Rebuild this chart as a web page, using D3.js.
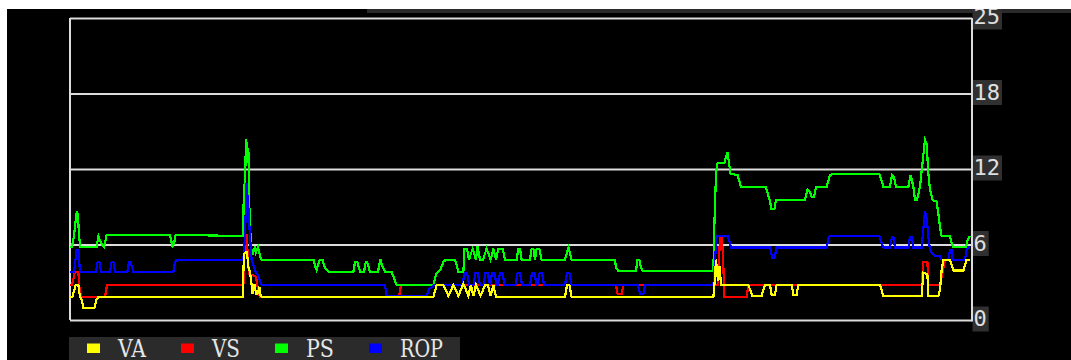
<!DOCTYPE html>
<html>
<head>
<meta charset="utf-8">
<script src="https://cdn.jsdelivr.net/npm/d3@7"></script>
<style>
  html, body { margin: 0; padding: 0; background: #fff; overflow: hidden; }
  svg { display: block; }
</style>
</head>
<body>
<svg id="chart" width="1071" height="360"></svg>
<script>
// Time index (one step per sample) and value pairs for each channel.
const VA = [[0,1.9],[1.2,1.9],[2.8,2.9],[4.2,2.9],[5,1.9],[5.8,1.7],[6.7,1.0],[12.2,1.0],[13.3,1.7],[14.2,1.9],
  [86.3,1.9],[87,5.5],[87.8,5.6],[88.5,5.6],[89.2,4.4],[90,4.0],[90.8,2.9],[91.3,2.2],[92.2,3.0],[93,2.2],[93.8,2.2],[94.7,2.75],[95.3,2.0],[95.8,1.9],
  [181.7,1.9],[182.5,2.4],[183.3,2.9],[186.7,2.9],[189.2,2.0],[191.7,2.9],[194.2,2.0],[196.7,3.0],[199.2,2.0],[200.4,2.9],[201.7,2.0],[203,2.9],[205.3,2.0],[207.5,2.9],[209,2.9],[210.3,2.0],[211.7,2.9],[213,1.9],
  [247.5,1.9],[248.5,2.9],[249.7,2.9],[250.8,1.9],
  [321.7,1.9],[322.2,2.9],[323,5.0],[324,3.2],[324.8,4.5],[325.5,2.9],
  [339.2,2.9],[341.2,2.0],[345.8,2.0],[347.5,2.9],[350,2.9],[350.8,2.1],[352.5,2.1],[353.3,2.9],[360.8,2.9],[361.7,2.1],[363.3,2.1],[364.2,2.9],
  [405,2.9],[406.7,2.0],[425.8,2.0],[426.7,3.9],[428.7,3.8],[429.2,2.0],[434.2,2.0],[435,2.5],[435.8,4.1],[436.7,5.0],[440,5.0],[441.7,4.1],[446.7,4.1],[448.3,5.0],[450,5.0]];

const VS = [[0,2.9],[1,2.9],[2.5,4.0],[4.2,4.0],[4.5,2.9],[5.5,1.9],[17.5,1.9],[18.5,2.9],
  [86.7,2.9],[87.5,7.0],[88.3,7.0],[89.2,4.5],[89.5,3.8],[91.7,3.7],[93,3.6],[94,2.5],[95,1.9],
  [164.5,1.9],[165.5,2.9],[273,2.9],[273.8,2.15],[275.8,2.15],[276.7,2.9],
  [324,2.9],[325,6.9],[326,6.9],[326.7,4.3],[327.2,1.9],[338.3,1.9],[339.2,2.9],
  [425.8,2.9],[426.7,4.8],[428.7,4.8],[429.2,2.9],[435,2.9],[435.8,3.6],[437,4.5],[437.5,5.0],[440,5.0],[441.7,4.1],[446.7,4.1],[448.3,5.0],[450,5.0]];

const PS = [[0,6.05],[1,6.05],[2,7.0],[3,8.5],[3.5,9.0],[4,8.6],[4.5,7.0],[5.2,6.05],
  [13.3,6.05],[14.2,6.95],[15,6.6],[16,6.2],[17,6.05],[17.8,6.6],[18.3,7.05],
  [50,7.05],[51.2,6.1],[52,6.3],[52.8,7.05],
  [86.5,6.95],[87,11.2],[87.5,11.2],[88,15.0],[88.7,14.2],[89.2,14.0],[89.7,9.3],[90.5,6.05],[91.3,5.4],[92,5.8],[92.5,6.1],[93,5.6],[94,6.05],[95,5.3],[95.8,5.0],
  [121.7,5.0],[122.5,4.5],[123.3,4.14],[124,4.6],[125,5.0],[126.2,5.0],[127.5,4.3],[129.2,4.0],
  [141.7,4.0],[142.5,4.8],[143.7,4.8],[145,4.0],[147,4.0],[147.9,4.8],[148.5,4.8],[150,4.0],
  [154,4.0],[155.2,5.0],[156,4.5],[157.5,4.0],[160.8,4.0],[161.7,3.6],[163.3,2.9],
  [181.7,2.9],[182.5,3.45],[183.3,3.9],[185,4.1],[186.7,4.8],[188,5.0],[192.5,5.0],[193.3,4.6],[194.2,4.0],[196.7,4.0],[197.2,5.9],
  [198.5,5.9],[199.5,5.0],[201.3,5.9],[203,5.0],[203.7,6.1],[205,5.0],[206.5,5.0],[208.3,5.9],[210.3,5.0],[211.7,5.9],[213,5.0],
  [214.2,5.9],[216.3,5.9],[217.5,5.0],[223.3,5.0],[224.2,5.9],[225,5.9],[225.8,5.0],[230,5.0],[230.8,5.9],[231.7,5.9],[232.5,5.0],
  [233.3,5.9],[234.7,5.9],[235.8,5.0],[247.5,5.0],[249.2,6.0],[250.8,5.0],
  [272.5,5.0],[273,4.3],[274.2,4.06],[283,4.06],[283.7,4.97],[284.7,4.97],[285.3,4.5],[286.3,4.06],
  [321.7,4.06],[322,6.9],[323,12.1],[323.8,13.0],[327.2,13.0],[328,13.5],[328.8,13.9],[329.5,12.97],[330.3,12.1],
  [333.8,12.0],[334.5,11.6],[335.5,11.0],[347.8,11.0],[348.8,10.5],[350,9.8],[350.8,9.16],[352.2,9.16],[353,9.93],
  [367.5,9.93],[368.8,10.8],[370,10.6],[370.8,10.2],[372,10.2],[373,11.0],[378.3,11.0],[380,12.0],[380.8,12.06],
  [404.7,12.06],[405.8,11.5],[406.7,11.03],[410,11.03],[411,12.0],[412,11.8],[413,11.03],
  [419.2,11.03],[420.3,12.0],[421.7,11.03],[422.5,9.93],[423.5,9.93],[424.3,10.5],[425,11.03],[426.3,13.1],[427.5,14.9],[428.3,14.6],[429.2,12.1],
  [430,10.8],[431.3,9.93],[433.3,9.8],[434.2,8.8],[435,7.7],[435.8,6.95],[440,6.95],[440.8,6.35],[441.7,6.05],[448,6.05],[448.8,6.6],[450,6.95]];

const ROP = [[0,4.0],[2,4.0],[2.75,5.0],[3.3,5.8],[4.2,5.8],[4.5,5.0],[5,4.0],
  [13,4.0],[13.8,4.8],[14.7,4.8],[15.5,4.0],[20,4.0],[20.8,4.8],[21.7,4.8],[22.5,4.0],[28.7,4.0],[29.5,4.8],[30.3,4.8],[31.7,4.0],
  [51.7,4.0],[52.5,4.8],[53.3,5.0],
  [86.7,5.0],[87.5,6.9],[88.3,11.3],[89.2,9.25],[90,6.9],[90.8,5.0],[92.5,4.1],[94.2,3.6],[95.8,2.9],
  [157.5,2.9],[158.3,2.0],[178.5,2.0],[179.5,2.6],[181,2.7],[182,2.9],
  [196.2,2.9],[197.3,3.9],[198.5,3.9],[199.6,2.9],[201.7,2.9],[202.7,3.9],[203.9,3.9],[205,2.9],
  [206.7,2.9],[207.7,3.9],[208.9,3.9],[210,2.9],[211,3.9],[212.2,3.9],[213.3,2.9],
  [213.9,2.9],[215,3.9],[216.2,3.9],[217.3,2.9],[222.7,2.9],[223.8,3.9],[225,3.9],[226,2.9],
  [230,2.9],[231,3.9],[232.2,3.9],[233.3,2.9],[233.7,2.9],[234.8,3.9],[236,3.9],[237,2.9],
  [247.5,2.9],[248.5,3.9],[249.7,3.9],[250.8,2.9],
  [284,2.9],[285,2.15],[286.7,2.15],[287.5,2.9],
  [321.7,2.9],[323.3,6.95],[328.8,6.95],[329.8,6.5],[330.5,6.0],
  [350,6.0],[351.2,5.1],[352.2,5.1],[353.3,6.0],[378.3,6.0],[379.5,6.9],[380.5,6.95],
  [404.7,6.95],[405.8,6.4],[406.7,6.0],[410,6.0],[411,6.9],[411.7,6.9],[412.5,6.0],
  [419.2,6.0],[420,6.9],[420.8,6.9],[421.7,6.0],[425.8,6.0],[426.7,7.6],[427.5,9.0],[428.3,8.5],[429.2,6.9],
  [430,5.8],[431.7,5.4],[432.5,5.3],[435,5.3],[435.8,5.0],[439.2,5.0],[440,5.8],[440.8,5.8],[441.3,5.0],[447.5,5.0],[448.3,5.8],[450,6.1]];

const seriesNames = ["VA", "VS", "PS", "ROP"];
const seriesColors = ["#ffff00", "#ff0000", "#00ff00", "#0000ff"];
const yTicks = [0, 6.25, 12.5, 18.75, 25];
const yTickLabels = ["0", "6", "12", "18", "25"];

const W = 1071, H = 360;
const plot = { left: 70, right: 972, top: 18, bottom: 320 };
const svg = d3.select("#chart");

// dark panel
svg.append("rect").attr("x", 7).attr("y", 9).attr("width", W - 7).attr("height", H - 9).attr("fill", "#000");
svg.append("rect").attr("x", 367).attr("y", 9).attr("width", W - 367).attr("height", 4).attr("fill", "#2a2a2a");

const x = d3.scaleLinear().domain([0, 450]).range([70, 970]);
const y = d3.scaleLinear().domain([0, 25]).range([plot.bottom, plot.top]);

// horizontal grid with value labels on the right
const axis = d3.axisRight(y)
  .tickValues(yTicks)
  .tickFormat((d, i) => yTickLabels[i])
  .tickSize(plot.right - plot.left)
  .tickPadding(1.5);
const gAxis = svg.append("g").attr("transform", `translate(${plot.left},0)`).call(axis);
gAxis.select(".domain").remove();
gAxis.selectAll(".tick line").attr("stroke", "#dcdcdc").attr("stroke-width", 2);
gAxis.selectAll(".tick text")
  .attr("fill", "#e0e0e0")
  .attr("font-family", "'DejaVu Sans Mono', monospace")
  .attr("font-size", 22)
  .attr("dy", "0.27em");
gAxis.selectAll(".tick").each(function () {
  const tick = d3.select(this);
  const bb = tick.select("text").node().getBBox();
  tick.insert("rect", "text")
    .attr("x", bb.x - 1)
    .attr("y", -14)
    .attr("width", bb.width + 3)
    .attr("height", 25)
    .attr("fill", "#303030");
});

// frame sides
svg.append("line").attr("x1", plot.left).attr("x2", plot.left).attr("y1", plot.top).attr("y2", plot.bottom)
  .attr("stroke", "#dcdcdc").attr("stroke-width", 2);
svg.append("line").attr("x1", plot.right).attr("x2", plot.right).attr("y1", plot.top).attr("y2", plot.bottom + 1.5)
  .attr("stroke", "#dcdcdc").attr("stroke-width", 2);

// channel traces (VA drawn last so it sits on top)
const line = d3.line().x(d => x(d[0])).y(d => y(d[1]));
const traces = [
  { data: VS, color: seriesColors[1] },
  { data: PS, color: seriesColors[2] },
  { data: ROP, color: seriesColors[3] },
  { data: VA, color: seriesColors[0] }
];
svg.append("g").selectAll("path").data(traces).join("path")
  .attr("d", d => line(d.data))
  .attr("fill", "none")
  .attr("stroke", d => d.color)
  .attr("stroke-width", 2.2)
  .attr("stroke-linejoin", "miter")
  .attr("shape-rendering", "crispEdges");

// legend strip
svg.append("rect").attr("x", 69).attr("y", 337).attr("width", 391).attr("height", 23).attr("fill", "#2b2b2b");
const legendX = d3.scalePoint().domain(seriesNames).range([87, 87 + 94 * 3]);
const items = svg.append("g").selectAll("g").data(seriesNames).join("g")
  .attr("transform", d => `translate(${legendX(d)},0)`);
items.append("rect").attr("x", 0).attr("y", 343.5).attr("width", 13).attr("height", 9.5)
  .attr("fill", (d, i) => seriesColors[i]);
items.append("text")
  .attr("x", 31).attr("y", 357)
  .attr("font-family", "'DejaVu Serif', serif")
  .attr("font-size", 24)
  .attr("fill", "#e6e6e6")
  .attr("textLength", d => d.length * 15 - 2)
  .attr("lengthAdjust", "spacingAndGlyphs")
  .text(d => d);

// page margins above and left of the panel
svg.append("rect").attr("x", 0).attr("y", 0).attr("width", W).attr("height", 9).attr("fill", "#fff");
svg.append("rect").attr("x", 0).attr("y", 0).attr("width", 7).attr("height", H).attr("fill", "#fff");
</script>
</body>
</html>
